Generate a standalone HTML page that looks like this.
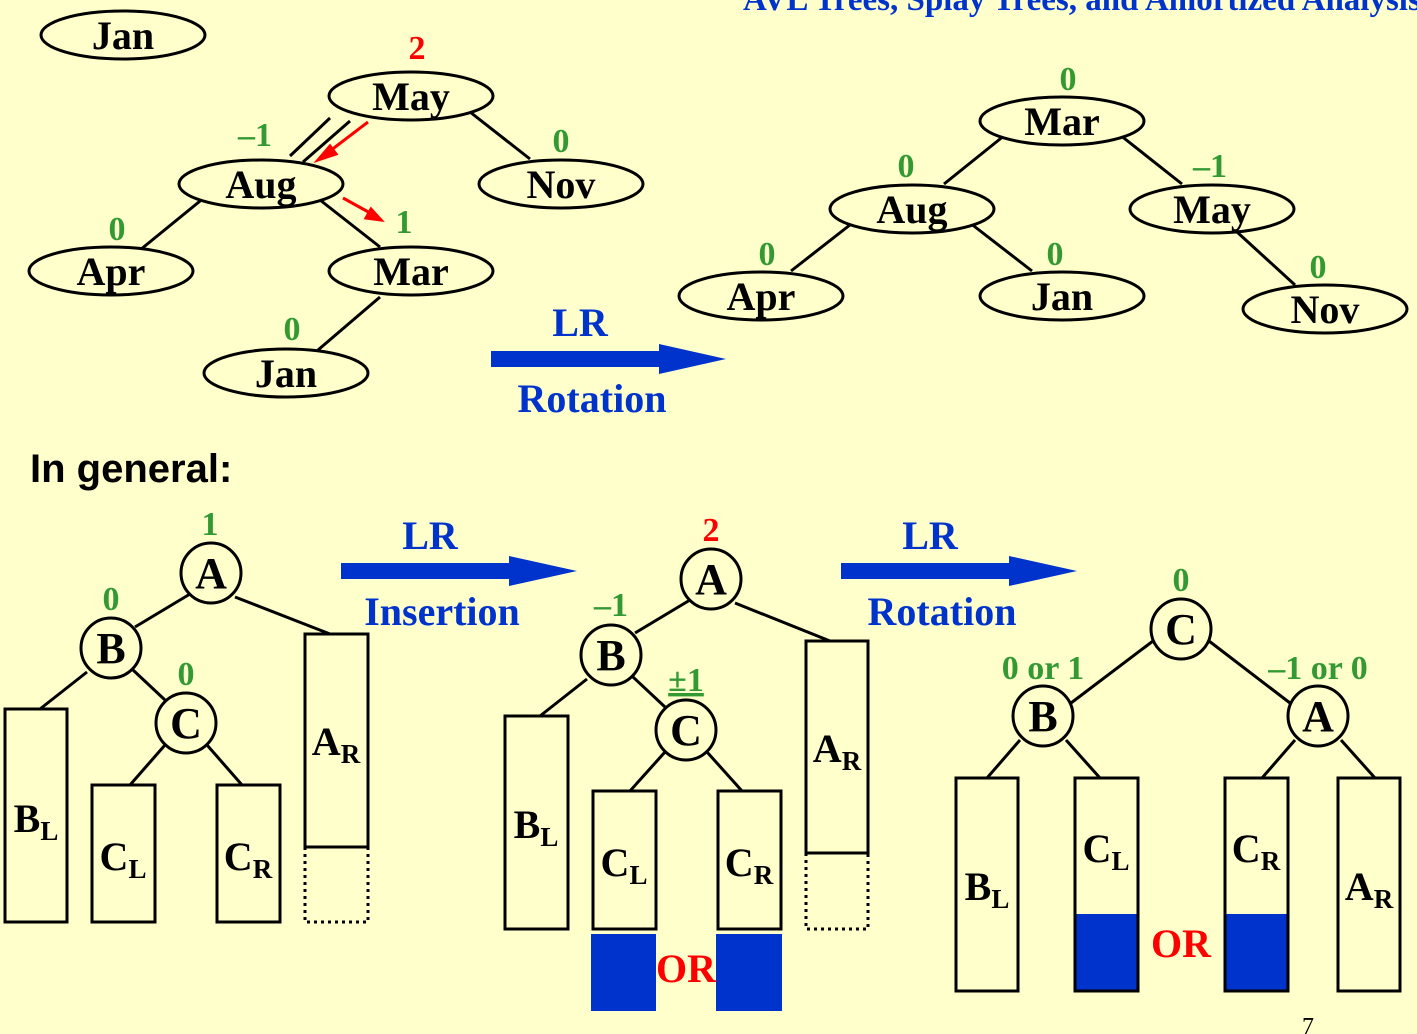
<!DOCTYPE html>
<html><head><meta charset="utf-8"><style>
html,body{margin:0;padding:0;background:#FFFFCC;}
svg{display:block;}
.n{font-family:"Liberation Serif",serif;font-weight:bold;font-size:40px;text-anchor:middle;fill:#000;}
.g{font-family:"Liberation Serif",serif;font-weight:bold;font-size:34px;text-anchor:middle;fill:#339933;}
.r{font-family:"Liberation Serif",serif;font-weight:bold;font-size:34px;text-anchor:middle;fill:#ff0000;}
.b{font-family:"Liberation Serif",serif;font-weight:bold;font-size:40px;text-anchor:middle;fill:#0033CC;}
.sub{font-size:27px;}
</style></head><body>
<svg width="1417" height="1034" viewBox="0 0 1417 1034" xmlns="http://www.w3.org/2000/svg">
<rect width="1417" height="1034" fill="#FFFFCC"/>
<text x="743" y="10" font-family="Liberation Serif,serif" font-weight="bold" font-size="33" fill="#0033CC">AVL Trees, Splay Trees, and Amortized Analysis</text>

<g stroke="#000" stroke-width="3" fill="none">
<line x1="330" y1="118" x2="290" y2="156"/><line x1="350" y1="121" x2="303" y2="162"/>
<line x1="470" y1="112" x2="530" y2="159"/>
<line x1="205" y1="197" x2="140" y2="250"/>
<line x1="320" y1="200" x2="380" y2="247"/>
<line x1="380" y1="297" x2="318" y2="350"/>
<line x1="1005" y1="135" x2="944" y2="184"/>
<line x1="1120" y1="135" x2="1182" y2="184"/>
<line x1="855" y1="221" x2="791" y2="271"/>
<line x1="970" y1="223" x2="1032" y2="271"/>
<line x1="1237" y1="232" x2="1295" y2="285"/>
</g>
<g stroke="#ff0000" stroke-width="3" fill="#ff0000">
<line x1="368" y1="122" x2="326" y2="154"/><polygon points="318,160 330,146 336,154"/>
<line x1="343" y1="198" x2="372" y2="214"/><polygon points="381,220 366,218 371,209"/>
</g>
<g stroke="#000" stroke-width="3" fill="#FFFFCC">
<ellipse cx="123" cy="35" rx="82" ry="24"/>
<ellipse cx="411" cy="96" rx="82" ry="24"/>
<ellipse cx="261" cy="184" rx="82" ry="24"/>
<ellipse cx="561" cy="184" rx="82" ry="24"/>
<ellipse cx="111" cy="271" rx="82" ry="24"/>
<ellipse cx="411" cy="271" rx="82" ry="24"/>
<ellipse cx="286" cy="373" rx="82" ry="24"/>
<ellipse cx="1062" cy="121" rx="82" ry="24"/>
<ellipse cx="912" cy="209" rx="82" ry="24"/>
<ellipse cx="1212" cy="209" rx="82" ry="24"/>
<ellipse cx="761" cy="296" rx="82" ry="24"/>
<ellipse cx="1062" cy="296" rx="82" ry="24"/>
<ellipse cx="1325" cy="309" rx="82" ry="24"/>
</g>
<g class="n">
<text x="123" y="49" class="n">Jan</text><text x="411" y="110" class="n">May</text>
<text x="261" y="198" class="n">Aug</text><text x="561" y="198" class="n">Nov</text>
<text x="111" y="285" class="n">Apr</text><text x="411" y="285" class="n">Mar</text>
<text x="286" y="387" class="n">Jan</text>
<text x="1062" y="135" class="n">Mar</text><text x="912" y="223" class="n">Aug</text>
<text x="1212" y="223" class="n">May</text><text x="761" y="310" class="n">Apr</text>
<text x="1062" y="310" class="n">Jan</text><text x="1325" y="323" class="n">Nov</text>
</g>
<g>
<text x="417" y="59" class="r">2</text>
<text x="255" y="146" class="g">–1</text><text x="561" y="152" class="g">0</text>
<text x="117" y="240" class="g">0</text><text x="404" y="233" class="g">1</text>
<text x="292" y="340" class="g">0</text>
<text x="1068" y="90" class="g">0</text><text x="906" y="177" class="g">0</text>
<text x="1210" y="177" class="g">–1</text><text x="767" y="265" class="g">0</text>
<text x="1055" y="265" class="g">0</text><text x="1318" y="278" class="g">0</text>
</g>
<g>
<rect x="491" y="351" width="170" height="16" fill="#0033CC"/>
<polygon points="659,344 726,359 659,374" fill="#0033CC"/>
<text x="580" y="336" class="b">LR</text><text x="592" y="412" class="b">Rotation</text>
</g>
<text x="30" y="482" font-family="Liberation Sans,sans-serif" font-weight="bold" font-size="40" fill="#000">In general:</text>

<g stroke="#000" stroke-width="3">
<line x1="190" y1="594" x2="135" y2="627"/><line x1="235" y1="597" x2="330" y2="634"/>
<line x1="87" y1="672" x2="40" y2="709"/><line x1="133" y1="670" x2="165" y2="700"/>
<line x1="165" y1="745" x2="130" y2="785"/><line x1="207" y1="745" x2="242" y2="785"/>
<line x1="690" y1="600" x2="635" y2="633"/><line x1="735" y1="603" x2="830" y2="641"/>
<line x1="587" y1="679" x2="540" y2="716"/><line x1="633" y1="677" x2="665" y2="707"/>
<line x1="665" y1="752" x2="630" y2="791"/><line x1="707" y1="752" x2="742" y2="791"/>
<line x1="1153" y1="641" x2="1071" y2="703"/><line x1="1209" y1="641" x2="1290" y2="703"/>
<line x1="1020" y1="740" x2="987" y2="778"/><line x1="1066" y1="740" x2="1100" y2="778"/>
<line x1="1295" y1="740" x2="1262" y2="778"/><line x1="1341" y1="740" x2="1375" y2="778"/>
</g>
<g fill="#0033CC">
<rect x="591" y="934" width="65" height="77"/><rect x="716" y="934" width="66" height="77"/>
<rect x="1074" y="914" width="65" height="78"/><rect x="1224" y="914" width="65" height="78"/>
</g>
<g stroke="#000" stroke-width="3" fill="none">
<rect x="5" y="709" width="62" height="213"/><rect x="92" y="785" width="63" height="137"/>
<rect x="217" y="785" width="63" height="137"/><rect x="305" y="634" width="63" height="213"/>
<rect x="305" y="847" width="63" height="75" stroke-dasharray="3,4"/>
<rect x="505" y="716" width="63" height="213"/><rect x="593" y="791" width="63" height="138"/>
<rect x="718" y="791" width="63" height="138"/><rect x="806" y="641" width="62" height="212"/>
<rect x="806" y="853" width="62" height="76" stroke-dasharray="3,4"/>
<rect x="956" y="778" width="62" height="213"/><rect x="1075" y="778" width="63" height="213"/>
<rect x="1225" y="778" width="63" height="213"/><rect x="1338" y="778" width="62" height="213"/>
</g>
<g stroke="#000" stroke-width="3" fill="#FFFFCC">
<circle cx="211" cy="573" r="30"/><circle cx="111" cy="648" r="30"/><circle cx="186" cy="723" r="30"/>
<circle cx="711" cy="579" r="30"/><circle cx="611" cy="655" r="30"/><circle cx="686" cy="730" r="30"/>
<circle cx="1181" cy="629" r="30"/><circle cx="1043" cy="716" r="30"/><circle cx="1318" cy="716" r="30"/>
</g>
<g>
<text x="211" y="588" class="n" style="font-size:44px">A</text><text x="111" y="663" class="n" style="font-size:44px">B</text><text x="186" y="738" class="n" style="font-size:44px">C</text>
<text x="711" y="594" class="n" style="font-size:44px">A</text><text x="611" y="670" class="n" style="font-size:44px">B</text><text x="686" y="745" class="n" style="font-size:44px">C</text>
<text x="1181" y="644" class="n" style="font-size:44px">C</text><text x="1043" y="731" class="n" style="font-size:44px">B</text><text x="1318" y="731" class="n" style="font-size:44px">A</text>
<text x="36" y="832" class="n">B<tspan class="sub" dy="8">L</tspan></text>
<text x="123" y="870" class="n">C<tspan class="sub" dy="8">L</tspan></text>
<text x="248" y="870" class="n">C<tspan class="sub" dy="8">R</tspan></text>
<text x="336" y="755" class="n">A<tspan class="sub" dy="8">R</tspan></text>
<text x="536" y="838" class="n">B<tspan class="sub" dy="8">L</tspan></text>
<text x="624" y="876" class="n">C<tspan class="sub" dy="8">L</tspan></text>
<text x="749" y="876" class="n">C<tspan class="sub" dy="8">R</tspan></text>
<text x="837" y="762" class="n">A<tspan class="sub" dy="8">R</tspan></text>
<text x="987" y="900" class="n">B<tspan class="sub" dy="8">L</tspan></text>
<text x="1106" y="862" class="n">C<tspan class="sub" dy="8">L</tspan></text>
<text x="1256" y="862" class="n">C<tspan class="sub" dy="8">R</tspan></text>
<text x="1369" y="900" class="n">A<tspan class="sub" dy="8">R</tspan></text>
<text x="686" y="982" class="r" style="font-size:40px">OR</text>
<text x="1181" y="957" class="r" style="font-size:40px">OR</text>
</g>
<g>
<text x="210" y="535" class="g">1</text><text x="111" y="610" class="g">0</text><text x="186" y="685" class="g">0</text>
<text x="711" y="541" class="r">2</text><text x="611" y="616" class="g">–1</text>
<text x="686" y="691" class="g" text-decoration="underline">±1</text>
<text x="1181" y="591" class="g">0</text><text x="1043" y="679" class="g">0 or 1</text>
<text x="1318" y="679" class="g">–1 or 0</text>
</g>
<g>
<rect x="341" y="563" width="170" height="16" fill="#0033CC"/>
<polygon points="509,556 577,571 509,586" fill="#0033CC"/>
<text x="430" y="549" class="b">LR</text><text x="442" y="625" class="b">Insertion</text>
</g>
<g>
<rect x="841" y="563" width="170" height="16" fill="#0033CC"/>
<polygon points="1009,556 1077,571 1009,586" fill="#0033CC"/>
<text x="930" y="549" class="b">LR</text><text x="942" y="625" class="b">Rotation</text>
</g>
<text x="1308" y="1034" font-family="Liberation Serif,serif" font-size="24" fill="#000" text-anchor="middle">7</text>
</svg>
</body></html>
